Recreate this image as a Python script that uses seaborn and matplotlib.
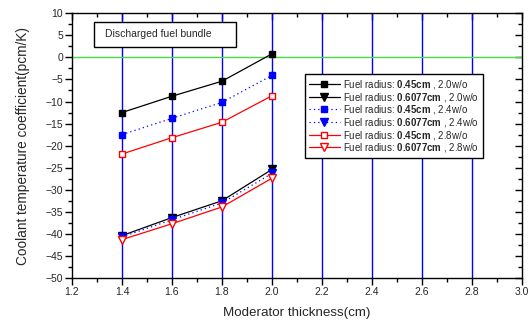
import matplotlib
matplotlib.use("Agg")
import matplotlib.pyplot as plt
from matplotlib.ticker import MultipleLocator
from matplotlib.patches import Rectangle
import seaborn as sns
import pandas as pd

# Moderator thickness (cm)
thickness = [1.4, 1.6, 1.8, 2.0]

# Coolant temperature coefficient (pcm/K), per fuel radius / enrichment
r045_e20 = [-12.5, -8.8, -5.4, 0.8]
r6077_e20 = [-40.4, -36.3, -32.5, -25.4]
r045_e24 = [-17.5, -13.8, -10.2, -4.1]
r6077_e24 = [-40.7, -36.8, -33.0, -26.3]
r045_e28 = [-21.9, -18.2, -14.7, -8.7]
r6077_e28 = [-41.3, -37.7, -33.9, -27.4]

radius_labels = ["0.45cm", "0.6077cm", "0.45cm", "0.6077cm", "0.45cm", "0.6077cm"]
enrich_labels = ["2.0w/o", "2.0w/o", "2.4w/o", "2.4w/o", "2.8w/o", "2.8w/o"]
series_values = [r045_e20, r6077_e20, r045_e24, r6077_e24, r045_e28, r6077_e28]

x_ticks = [1.2, 1.4, 1.6, 1.8, 2.0, 2.2, 2.4, 2.6, 2.8, 3.0]
grid_x = [1.4, 1.6, 1.8, 2.0, 2.2, 2.4, 2.6, 2.8]

sns.set_theme(style="ticks")
plt.rcParams["font.family"] = ["Liberation Sans", "DejaVu Sans"]
plt.rcParams["mathtext.fontset"] = "custom"
plt.rcParams["mathtext.rm"] = "Liberation Sans"
plt.rcParams["mathtext.bf"] = "Liberation Sans:bold"

rows = []
for i, vals in enumerate(series_values):
    label = f"Fuel radius: $\\bf{{{radius_labels[i]}}}$ , {enrich_labels[i]}"
    for x, y in zip(thickness, vals):
        rows.append({"thickness": x, "coef": y, "series": label})
df = pd.DataFrame(rows)

styles = [
    dict(color="black", marker="s", linestyle="-", mfc="black", mec="black", ms=5),
    dict(color="black", marker="v", linestyle="-", mfc="black", mec="black", ms=6),
    dict(color="blue", marker="s", linestyle=(0, (1, 2.5)), mfc="blue", mec="blue", ms=5),
    dict(color="blue", marker="v", linestyle=(0, (1, 2.5)), mfc="blue", mec="blue", ms=6),
    dict(color="red", marker="s", linestyle="-", mfc="white", mec="red", ms=5),
    dict(color="red", marker="v", linestyle="-", mfc="white", mec="red", ms=6),
]

fig = plt.figure(figsize=(5.31, 3.24), dpi=100)
ax = fig.add_axes([0.1356, 0.142, 0.847, 0.817])
ax.set_facecolor("white")

for gx in grid_x:
    ax.axvline(gx, color="blue", lw=1.0, zorder=1)
ax.axhline(0, color="#44e044", lw=1.0, zorder=1)

labels = list(df["series"].unique())
for label, st in zip(labels, styles):
    sub = df[df["series"] == label]
    sns.lineplot(data=sub, x="thickness", y="coef", ax=ax, color=st["color"],
                 label=label, zorder=3)
    line = ax.get_lines()[-1]
    line.set_linestyle(st["linestyle"])
    line.set_linewidth(0.9)
    line.set_marker(st["marker"])
    line.set_markerfacecolor(st["mfc"])
    line.set_markeredgecolor(st["mec"])
    line.set_markersize(st["ms"])
    line.set_markeredgewidth(1.0)

ax.set_xlim(1.2, 3.0)
ax.set_ylim(-50, 10)
ax.set_xticks(x_ticks)
ax.set_xticklabels([f"{t:.1f}" for t in x_ticks])
ax.xaxis.set_minor_locator(MultipleLocator(0.1))
ax.yaxis.set_major_locator(MultipleLocator(5))
ax.yaxis.set_minor_locator(MultipleLocator(2.5))
ax.tick_params(axis="both", which="major", direction="out", length=5, width=1,
               labelsize=7.5, color="black", pad=1.5)
ax.tick_params(axis="both", which="minor", direction="out", length=3, width=1,
               color="black")
ax.tick_params(top=True, right=True, which="both")
# inward ticks on the top and right spines
for t in ax.xaxis.get_major_ticks() + ax.xaxis.get_minor_ticks():
    t.tick2line.set_marker(3)
for t in ax.yaxis.get_major_ticks() + ax.yaxis.get_minor_ticks():
    t.tick2line.set_marker(0)
for s in ax.spines.values():
    s.set_color("black")
    s.set_linewidth(1.0)
    s.set_zorder(5)

ax.set_xlabel("Moderator thickness(cm)", fontsize=9.6, labelpad=7)
ax.set_ylabel("Coolant temperature coefficient(pcm/K)", fontsize=9.8, labelpad=11)

leg = ax.legend(loc="upper left", bbox_to_anchor=(0.518, 0.77), fontsize=7,
                frameon=True, fancybox=False, edgecolor="black", framealpha=1,
                handlelength=3.2, handletextpad=0.3, borderpad=0.4,
                borderaxespad=0.0, labelspacing=-0.04, numpoints=1)
leg.get_frame().set_linewidth(1.0)

# annotation box in the upper-left corner
ax.add_patch(Rectangle((0.049, 0.872), 0.316, 0.095, transform=ax.transAxes,
                       fc="white", ec="black", lw=1.0, zorder=6))
ax.text(0.073, 0.92, "Discharged fuel bundle", transform=ax.transAxes,
        fontsize=7.5, va="center", ha="left", zorder=7)

fig.savefig("out.png", dpi=100)
